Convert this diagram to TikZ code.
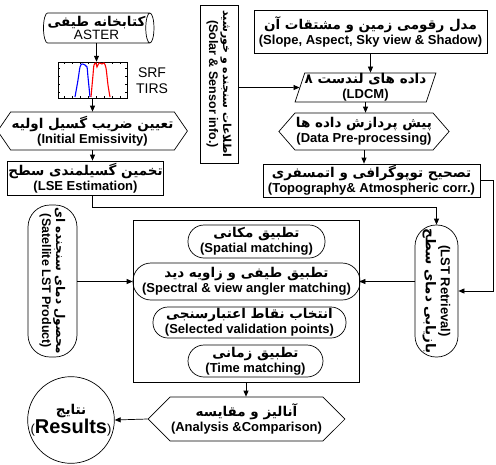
\documentclass[tikz,border=0pt]{standalone}
\usepackage{fontspec}
\setmainfont{Liberation Sans}
\newfontfamily\fafont[Script=Arabic]{DejaVu Sans}
\TeXXeTstate=1
\newcommand{\fa}[2][13.5]{{\fafont\bfseries\fontsize{#1}{15}\selectfont\beginR #2\endR}}
\usetikzlibrary{shapes.geometric,shapes.symbols,arrows.meta}

\begin{document}
\begin{tikzpicture}[x=1pt, y=-1pt, line width=0.7pt,
    every node/.style={font=\fontsize{13}{15}\selectfont\bfseries, align=center, inner sep=1pt},
    arr/.style={-{Triangle[length=6pt,width=5pt]}},
    hexa/.style={draw, signal, signal to=west and east},
    pill/.style={draw, rectangle, rounded corners=#1}]
    \useasboundingbox (0,0) rectangle (496,464);
    % left column
    \node[draw, cylinder, shape border rotate=0, aspect=0.35, minimum width=30, minimum height=97, inner sep=0pt] (aster) at (96.5,28) {\fa{کتابخانه طیفی}\\[-2pt]{\mdseries\fontsize{13.5}{14}\selectfont ASTER}};
    \node[draw, line width=0.5pt, minimum width=69, minimum height=36, inner sep=0pt] (srf) at (92.5,80) {};
    \foreach \tx in {64,72,...,120} {
        \draw[line width=0.4pt] (\tx,62) -- (\tx,64);
        \draw[line width=0.4pt] (\tx,98) -- (\tx,96);
    }
    \foreach \ty in {68,76,...,92} {
        \draw[line width=0.4pt] (58,\ty) -- (60,\ty);
        \draw[line width=0.4pt] (127,\ty) -- (125,\ty);
    }
    \draw[blue, line width=1.1pt] plot[smooth] coordinates {(75,97) (78,80) (80,67) (82,64) (85,65) (87,67) (88,77) (90,97)};
    \draw[red, line width=1.1pt] plot[smooth] coordinates {(91,97) (93,75) (94,65) (96,63) (97,67) (99,63) (102,64) (104,63) (106,68) (108,85) (110,97)};
    \node[font=\fontsize{14}{16}\selectfont] (srftxt) at (152,81) {SRF\\TIRS};
    \node[hexa, signal pointer angle=111, minimum width=181, minimum height=38] (ini) at (92.5,131) {\fa{تعیین ضریب گسیل اولیه}\\(Initial Emissivity)};
    \node[draw, minimum width=126, minimum height=34] (lse) at (85.5,178) {\fa{تخمین گسیلمندی سطح}\\(LSE Estimation)};
    \node[draw, rotate=-90, minimum width=158, minimum height=38, font=\fontsize{12.5}{14}\selectfont\bfseries] (solar) at (219,84) {\fa[11]{اطلاعات سنجنده و خورشید}\\(Solar \& Sensor info.)};
    % right column
    \node[draw, minimum width=233, minimum height=43] (dem) at (370.5,31.5) {\fa{مدل رقومی زمین و مشتقات آن}\\(Slope, Aspect, Sky view \& Shadow)};
    \node[draw, trapezium, trapezium left angle=71, trapezium right angle=109, trapezium stretches=true, minimum width=105, minimum height=29, inner sep=0pt] (ldcm) at (365.5,87.5) {\fa{داده های لندست ۸}\\(LDCM)};
    \node[hexa, signal pointer angle=98, minimum width=148, minimum height=37] (pre) at (364,131.5) {\fa{پیش پردازش داده ها}\\(Data Pre-processing)};
    \node[draw, minimum width=217, minimum height=33] (topo) at (371.5,180.5) {\fa{تصحیح توپوگرافی و اتمسفری}\\(Topography\& Atmospheric corr.)};
    % matching block
    \node[draw, rotate=-90, rounded corners=22, minimum width=152, minimum height=49, font=\fontsize{12.5}{14}\selectfont\bfseries] (sat) at (52.5,281) {\fa[12]{محصول دمای سنجنده ای}\\(Satellite LST Product)};
    \node[draw, minimum width=226, minimum height=162] (match) at (246,301) {};
    \node[pill=16, minimum width=137, minimum height=33] (spatial) at (256.5,241.5) {\fa{تطبیق مکانی}\\(Spatial matching)};
    \node[pill=18, minimum width=227, minimum height=37] (spectral) at (246.5,281.5) {\fa{تطبیق طیفی و زاویه دید}\\(Spectral \& view angler matching)};
    \node[pill=15, minimum width=193, minimum height=31] (selected) at (249.5,322.5) {\fa{انتخاب نقاط اعتبارسنجی}\\(Selected validation points)};
    \node[pill=16, minimum width=135, minimum height=32] (time) at (255.5,361) {\fa{تطبیق زمانی}\\(Time matching)};
    \node[draw, rotate=-90, rounded corners=21, minimum width=132, minimum height=43] (lst) at (436.5,291) {(LST Retrieval)\\\fa{بازیابی دمای سطح}};
    \node[hexa, signal pointer angle=90, minimum width=173, minimum height=44] (analysis) at (246.5,419) {\fa{آنالیز و مقایسه}\\(Analysis \&Comparison)};
    \node[draw, circle, minimum size=86, inner sep=0pt] (results) at (71,420) {\fa{نتایج}\\{\mdseries(}{\fontsize{20}{22}\selectfont Results}{\mdseries)}};
    % connectors
    \draw[arr] (aster.south) -- (aster.south |- srf.north);
    \draw[arr] (srf.south) -- (srf.south |- ini.north);
    \draw[arr] (ini.south) -- (ini.south |- lse.north);
    \draw[arr] (lse.south -| ini.south) -- ++(0,12) -| (lst.west);
    \draw[arr] (dem.south) -- (dem.south |- ldcm.north);
    \draw[arr] (solar.north |- ldcm) -- (ldcm.west);
    \draw[arr] (ldcm.south) -- (ldcm.south |- pre.north);
    \draw[arr] (pre.south) -- (pre.south |- topo.north);
    \draw[arr] (topo.east) -- ++(13,0) |- (lst.north);
    \draw[arr] (sat.north |- spectral) -- (match.west |- spectral);
    \draw[arr] (lst.south |- spectral) -- (match.east |- spectral);
    \draw[arr] (match.south) -- (match.south |- analysis.north);
    \draw[arr] (analysis.west) -- (results.east);
\end{tikzpicture}
\end{document}
